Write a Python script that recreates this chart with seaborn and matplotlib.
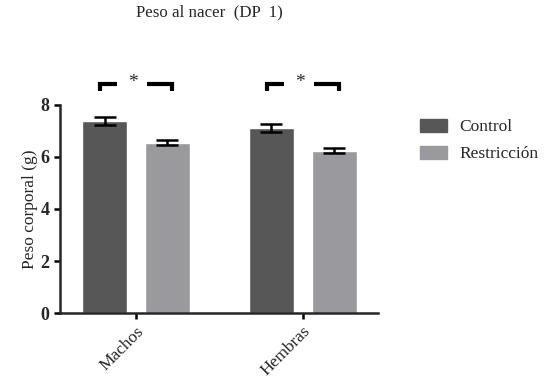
import numpy as np
import pandas as pd
import matplotlib.pyplot as plt
import seaborn as sns

# datos
sexos = ['Machos', 'Hembras']
grupos = ['Control', 'Restricción']
media_control = [7.37, 7.10]
sem_control = [0.17, 0.17]
media_restr = [6.54, 6.23]
sem_restr = [0.11, 0.09]

df = pd.DataFrame({
    'sexo': sexos * 2,
    'grupo': [grupos[0]] * 2 + [grupos[1]] * 2,
    'peso': media_control + media_restr,
    'sem': sem_control + sem_restr,
})

sns.set_style('ticks')
plt.rcParams['font.family'] = ['Liberation Serif', 'DejaVu Serif']

fig = plt.figure(figsize=(5.46, 3.90), dpi=100)
ax = fig.add_axes([0.11, 0.197, 0.582, 0.535])

colores = ['#575757', '#9a999e']
sns.barplot(data=df, x='sexo', y='peso', hue='grupo', order=sexos,
            hue_order=grupos, palette=colores, width=0.75, gap=0.28,
            errorbar=None, ax=ax, saturation=1)

# barras de error (SEM)
for patch_group, g in zip(ax.containers, grupos):
    sub = df[df.grupo == g].set_index('sexo').loc[sexos]
    for bar, m, e in zip(patch_group, sub['peso'], sub['sem']):
        xc = bar.get_x() + bar.get_width() / 2
        ax.errorbar(xc, m, yerr=e, color='black', capsize=8, capthick=1.8,
                    elinewidth=1.8)

ax.set_ylim(0, 8)
ax.set_xlim(-0.455, 1.45)
ax.set_yticks([0, 2, 4, 6, 8])
ax.set_yticklabels(['0', '2', '4', '6', '8'], fontweight='bold', fontsize=13)
ax.set_xticks([0, 1])
ax.set_xticklabels(sexos, rotation=45, ha='right', rotation_mode='anchor',
                   fontsize=12.5)
ax.set_xlabel('')
ax.set_ylabel('Peso corporal (g)', fontsize=12.5, labelpad=2)
sns.despine(ax=ax)
for s in ['left', 'bottom']:
    ax.spines[s].set_linewidth(1.8)
ax.tick_params(axis='both', width=1.8, length=4, color='black')

# corchetes de significancia
for pos in [0, 1]:
    xl = pos - 0.215
    xr = pos + 0.215
    ax.plot([xl, xl, xl + 0.1], [8.5, 8.77, 8.77], color='black', lw=3,
            clip_on=False, solid_capstyle='butt', solid_joinstyle='miter')
    ax.plot([xr - 0.15, xr, xr], [8.77, 8.77, 8.5], color='black', lw=3,
            clip_on=False, solid_capstyle='butt', solid_joinstyle='miter')
    ax.text(pos - 0.02, 8.85, '*', ha='center', va='center', fontsize=14)

ax.legend_.remove()
handles = [plt.Rectangle((0, 0), 1, 1, color=c) for c in colores]
fig.legend(handles, grupos, loc='upper left', bbox_to_anchor=(0.74, 0.735),
           frameon=False, fontsize=12.5, handlelength=1.6, handleheight=0.75,
           handletextpad=0.7, labelspacing=0.6)

fig.text(0.383, 0.968, 'Peso al nacer  (DP  1)', ha='center', va='center',
         fontsize=12.2)

fig.savefig('out.png', dpi=100)
